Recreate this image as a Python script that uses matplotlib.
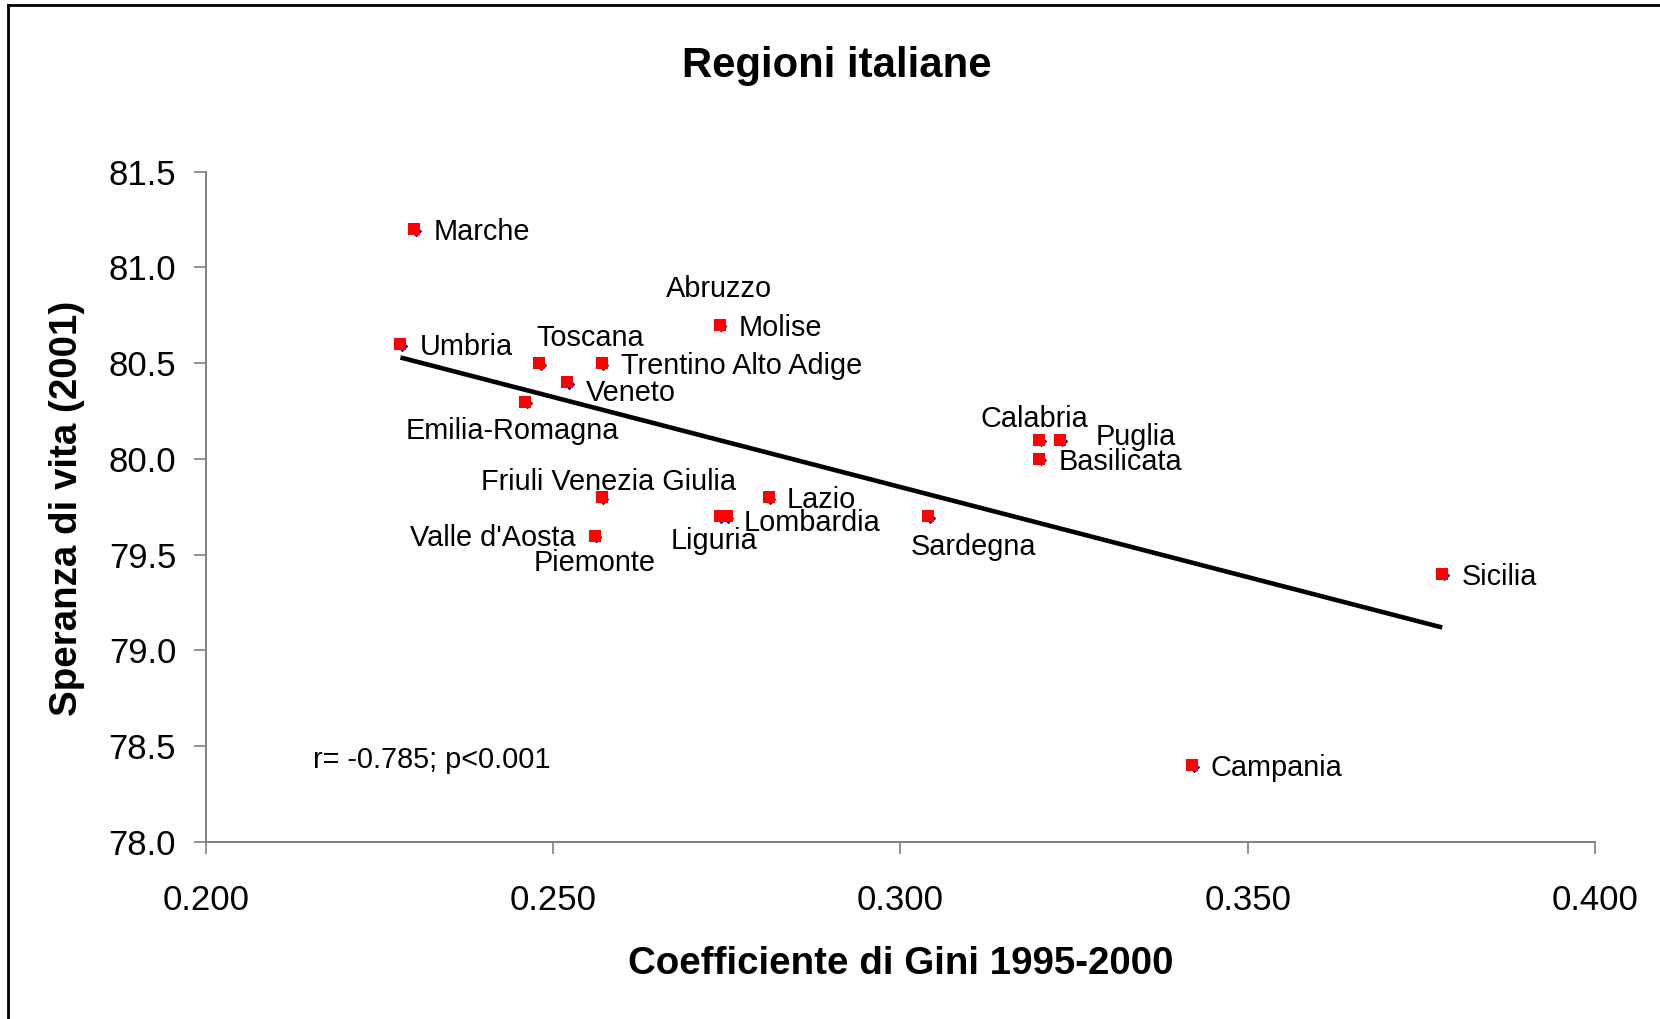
import matplotlib
matplotlib.use("Agg")
import matplotlib.pyplot as plt
from matplotlib.lines import Line2D
from matplotlib.ticker import FormatStrFormatter
import matplotlib.transforms as mtransforms

plt.rcParams['font.family'] = ['Liberation Sans', 'DejaVu Sans']

# ---- data ----
regions = ["Marche", "Umbria", "Toscana", "Trentino Alto Adige", "Veneto",
           "Emilia-Romagna", "Abruzzo", "Molise", "Friuli Venezia Giulia",
           "Lazio", "Lombardia", "Liguria", "Valle d'Aosta", "Piemonte",
           "Sardegna", "Calabria", "Puglia", "Basilicata", "Sicilia", "Campania"]
gini = [0.230, 0.228, 0.248, 0.257, 0.252,
        0.246, 0.274, 0.274, 0.257,
        0.281, 0.275, 0.274, 0.256, 0.256,
        0.304, 0.320, 0.323, 0.320, 0.378, 0.342]
speranza = [81.2, 80.6, 80.5, 80.5, 80.4,
            80.3, 80.7, 80.7, 79.8,
            79.8, 79.7, 79.7, 79.6, 79.6,
            79.7, 80.1, 80.1, 80.0, 79.4, 78.4]
trend_x = [0.228, 0.378]
trend_y = [80.53, 79.12]
x_ticks = [0.200, 0.250, 0.300, 0.350, 0.400]
y_ticks = [78.0, 78.5, 79.0, 79.5, 80.0, 80.5, 81.0, 81.5]

# label offsets (pixels in the shrunk reference), alignment
label_offsets = [(18, 0, 'left'), (18, 0, 'left'), (48, 26, 'center'), (18, 0, 'left'), (18, -8, 'left'),
                 (-12, -25, 'center'), (-1, 36, 'center'), (18, 0, 'left'), (6, 17, 'center'),
                 (17, 0, 'left'), (16, -4, 'left'), (-6, -21, 'center'), (-18, 0, 'right'), (0, -23, 'center'),
                 (43, -26, 'center'), (-5, 22, 'center'), (33, 5, 'left'), (18, 0, 'left'), (18, 0, 'left'),
                 (17, 0, 'left')]

W, H = 1660, 1019
fig = plt.figure(figsize=(W / 100, H / 100), dpi=100)
ax = fig.add_axes([206 / W, 1 - 842 / H, (1595 - 206) / W, (842 - 171.7) / H])

ax.set_xlim(0.2, 0.4)
ax.set_ylim(78.0, 81.5)

ax.plot(trend_x, trend_y, color='black', lw=3.3, solid_capstyle='butt', zorder=2)

off = mtransforms.offset_copy(ax.transData, fig=fig, x=1.5, y=-1.5, units='dots')
ax.scatter(gini, speranza, marker='D', s=34, color='#000080', transform=off, zorder=3, linewidths=0)
ax.scatter(gini, speranza, marker='s', s=85, color='#ff0000', zorder=4, linewidths=0)

sc = W / 1568
for name, x, y, (dx, dy, ha) in zip(regions, gini, speranza, label_offsets):
    ax.annotate(name, (x, y), xytext=(dx * sc, (dy - 2.5) * sc), textcoords='offset pixels',
                ha=ha, va='center', fontsize=20.8, color='black', zorder=5)

fig.text(313 / W, 1 - 760 / H, "r= -0.785; p<0.001", fontsize=20.8, ha='left', va='center')

for s in ['top', 'right']:
    ax.spines[s].set_visible(False)
for s in ['left', 'bottom']:
    ax.spines[s].set_color('#808080')
    ax.spines[s].set_linewidth(1.4)

ax.set_xticks(x_ticks)
ax.set_yticks(y_ticks)
ax.xaxis.set_major_formatter(FormatStrFormatter('%.3f'))
ax.yaxis.set_major_formatter(FormatStrFormatter('%.1f'))
ax.tick_params(axis='both', direction='out', length=8.5, width=1.2, color='#808080',
               labelsize=25, labelcolor='black')
ax.tick_params(axis='y', pad=13)
ax.tick_params(axis='x', pad=22)

fig.text(837 / W, 1 - 66 / H, "Regioni italiane", fontsize=30.2, fontweight='bold',
         ha='center', va='center')
fig.text(901 / W, 1 - 964 / H, "Coefficiente di Gini 1995-2000", fontsize=27.7, fontweight='bold',
         ha='center', va='center')
fig.text(67 / W, 1 - 508 / H, "Speranza di vita (2001)", fontsize=27.7, fontweight='bold',
         ha='center', va='center', rotation=90)

# outer frame (top and left edges visible)
fig.add_artist(Line2D([8 / W, 1], [1 - 5 / H, 1 - 5 / H], transform=fig.transFigure, color='black', lw=2))
fig.add_artist(Line2D([8 / W, 8 / W], [0, 1 - 5 / H], transform=fig.transFigure, color='black', lw=2))

fig.savefig("out.png", dpi=100)
